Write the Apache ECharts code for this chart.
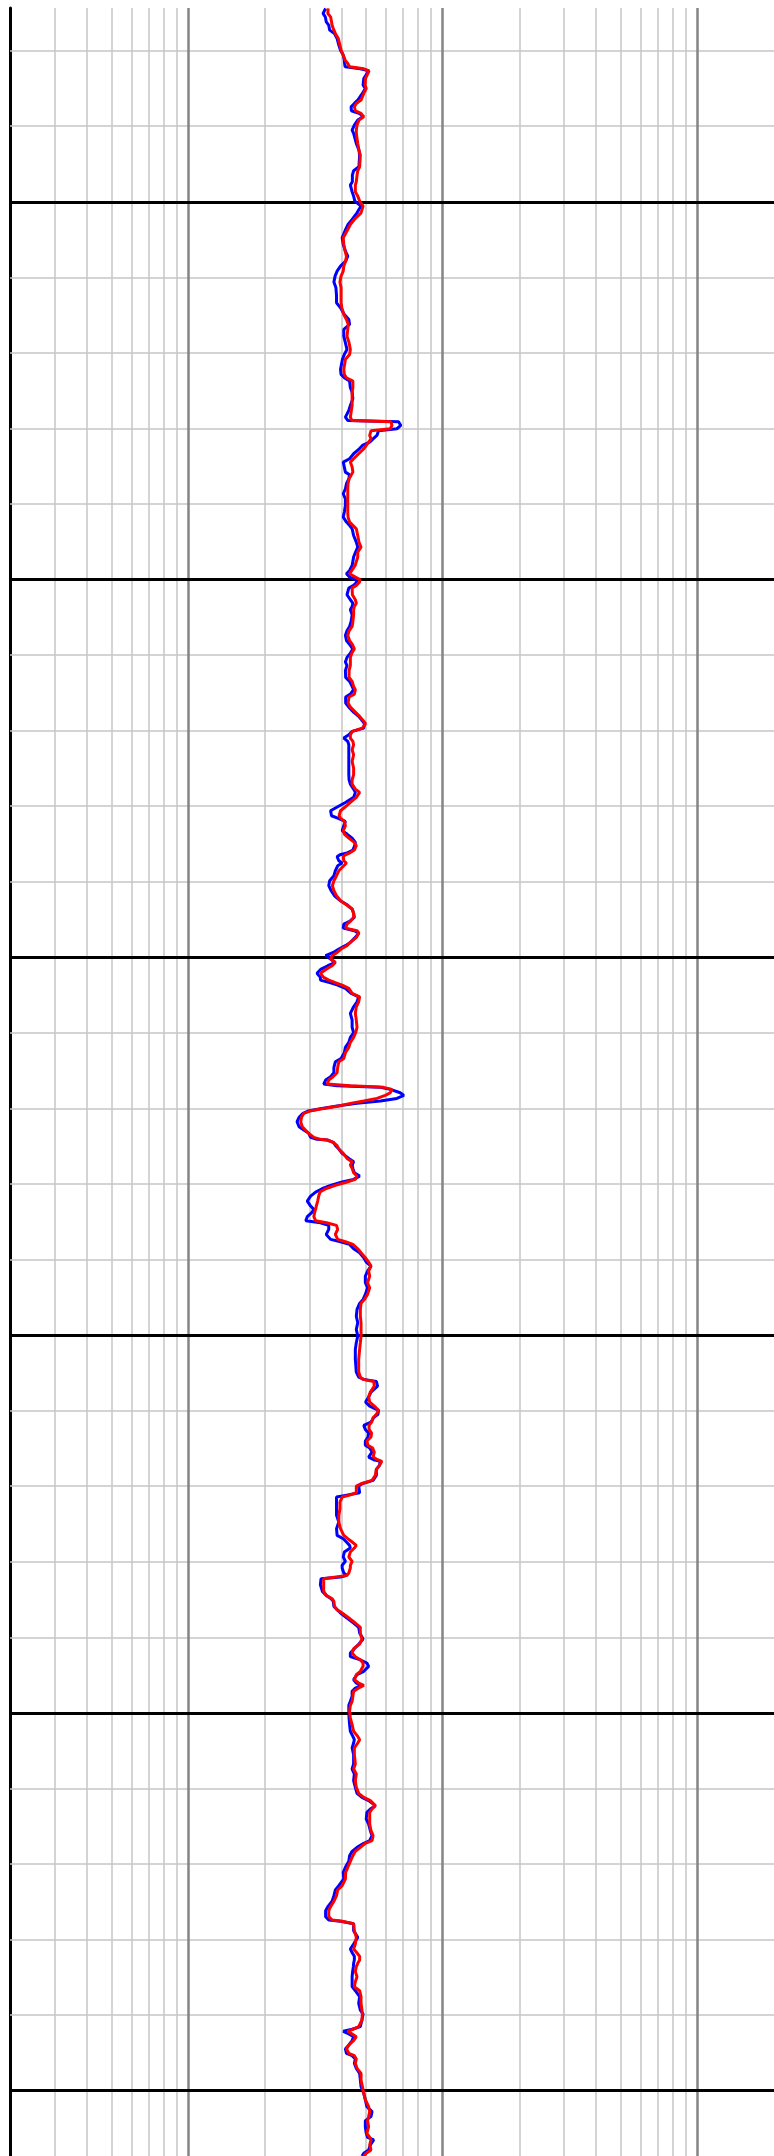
<!DOCTYPE html>
<html>
<head>
<meta charset="utf-8">
<script src="https://cdn.jsdelivr.net/npm/echarts@6/dist/echarts.min.js"></script>
<style>
  html, body { margin: 0; padding: 0; background: #fff; }
  #main { width: 774px; height: 2156px; }
</style>
</head>
<body>
<div id="main"></div>
<script>
// depth samples (shared by both curves)
var depth = [
  974.41, 975.07, 975.52, 976.18, 976.62, 977.28, 977.72, 978.38, 979.26, 979.93, 980.59, 981.25, 981.69, 982.13, 982.40, 982.66, 983.68, 984.56, 985.00, 985.66, 986.54, 986.98, 987.43, 987.95, 988.31, 988.75, 989.19, 989.85, 990.51, 990.95, 992.28, 993.16, 993.82, 995.37, 995.89, 996.47, 997.35, 997.79, 998.67,
  999.25, 999.91, 1000.57, 1001.46, 1002.34, 1003.00, 1003.66, 1004.76, 1005.65, 1006.53, 1007.19, 1007.85, 1008.51, 1009.17, 1009.84, 1010.63, 1011.38, 1012.48, 1013.37, 1014.03, 1014.91, 1015.57, 1016.23, 1016.89, 1017.78, 1018.66, 1019.54, 1020.20, 1020.86, 1022.19, 1022.85, 1023.29, 1023.73, 1024.61,
  1025.19, 1026.07, 1026.95, 1027.62, 1028.50, 1028.94, 1029.12, 1029.60, 1030.04, 1030.31, 1030.92, 1031.37, 1031.81, 1032.25, 1032.78, 1033.35, 1034.01, 1034.45, 1035.11, 1035.78, 1036.13, 1036.66, 1037.32, 1037.98, 1038.64, 1039.31, 1040.19, 1041.07, 1041.73, 1042.39, 1042.83, 1043.28, 1044.16, 1045.04, 1045.70, 1046.36, 1047.02, 1048.13, 1048.79, 1049.23, 1049.67, 1049.98, 1050.33, 1050.77,
  1051.13, 1052.01, 1052.67, 1053.12, 1053.56, 1054.00, 1054.66, 1055.54, 1056.20, 1056.78, 1057.39, 1058.06, 1058.72, 1059.20, 1059.73, 1060.30, 1060.92, 1061.36, 1062.07, 1062.95, 1063.48, 1064.14, 1064.58, 1065.16, 1065.55, 1066.35, 1066.88, 1067.54, 1068.11, 1068.64, 1069.08, 1069.66, 1070.10, 1070.54, 1070.98, 1071.42, 1071.86, 1072.52, 1073.19, 1074.07, 1074.95, 1075.83, 1076.49,
  1077.07, 1077.73, 1078.17, 1078.83, 1079.50, 1080.07, 1080.60, 1081.26, 1081.57, 1082.01, 1082.58, 1083.25, 1083.69, 1084.22, 1084.79, 1085.23, 1085.80, 1086.20, 1086.42, 1086.69, 1087.22, 1087.52, 1087.88, 1088.54, 1089.20, 1089.86, 1090.52, 1091.19, 1091.85, 1092.51, 1093.04, 1093.61, 1094.18, 1094.71, 1095.24, 1095.60, 1096.13, 1096.48, 1096.79, 1097.36, 1098.02, 1098.46, 1098.90, 1099.35, 1099.79, 1100.23, 1100.67, 1101.11, 1101.55, 1102.12, 1102.65,
  1103.01, 1103.36, 1103.67, 1104.11, 1104.77, 1105.22, 1105.88, 1106.54, 1107.42, 1108.30, 1109.27, 1109.98, 1110.60, 1111.26, 1111.92, 1112.63, 1113.38, 1113.82, 1114.57, 1115.27, 1115.80, 1116.24, 1116.77, 1116.99, 1117.21, 1117.48, 1117.92, 1118.27, 1118.67, 1119.02, 1119.33, 1119.68, 1120.04, 1120.35, 1120.65, 1121.18, 1121.76, 1122.42, 1122.86, 1123.30, 1123.83, 1124.09, 1124.18, 1124.49, 1124.93, 1125.37, 1125.95, 1126.61, 1127.05, 1127.49, 1127.93, 1128.51,
  1128.95, 1129.39, 1129.74, 1130.19, 1130.63, 1131.07, 1131.60, 1132.26, 1132.92, 1133.36, 1133.80, 1134.33, 1134.86, 1135.13, 1135.48, 1136.01, 1136.67, 1137.33, 1137.64, 1137.99, 1138.57, 1139.10, 1139.76, 1140.33, 1140.86, 1141.52, 1142.18, 1143.07, 1143.73, 1144.61, 1145.27, 1145.80, 1146.59, 1147.48, 1148.36, 1149.24, 1150.12, 1151.01, 1151.89, 1153.21,
  1154.89, 1155.55, 1155.86, 1156.13, 1156.74, 1157.54, 1158.20, 1158.86, 1159.39, 1159.96, 1160.49, 1160.93, 1161.51, 1161.95, 1162.48, 1162.96, 1163.49, 1164.02, 1164.59, 1164.95, 1165.48, 1166.14, 1166.49, 1166.71, 1167.24, 1167.77, 1168.56, 1169.23, 1169.67, 1169.98, 1170.86, 1171.21, 1171.43, 1172.09, 1172.98, 1173.86, 1174.74, 1175.62, 1176.50, 1176.95, 1177.39, 1177.83, 1178.18, 1178.71, 1179.37, 1179.94, 1180.47,
  1180.83, 1181.49, 1181.80, 1182.02, 1182.24, 1183.04, 1183.92, 1184.45, 1184.89, 1185.24, 1185.90, 1186.34, 1186.78, 1187.45, 1188.11, 1188.68, 1189.43, 1190.23, 1190.89, 1191.50, 1192.08, 1192.56, 1192.96, 1193.40, 1193.84, 1194.50, 1194.95, 1195.61, 1196.05, 1196.36, 1196.71, 1197.15, 1197.81, 1198.47, 1199.00, 1199.80, 1200.68, 1201.56, 1202.44, 1203.11, 1203.55, 1203.99, 1204.65, 1205.53,
  1206.77, 1207.43, 1208.09, 1208.98, 1209.86, 1210.65, 1211.18, 1211.62, 1212.28, 1212.72, 1213.17, 1214.05, 1214.71, 1215.59, 1216.25, 1216.92, 1217.27, 1217.80, 1218.33, 1218.90, 1219.65, 1220.44, 1221.11, 1221.99, 1222.87, 1223.44, 1224.19, 1224.94, 1225.65, 1226.18, 1226.97, 1227.41, 1227.59, 1227.90, 1228.83, 1229.71, 1230.59, 1231.25, 1231.78, 1232.22,
  1232.71, 1233.15, 1233.59, 1234.25, 1234.92, 1235.58, 1236.24, 1236.77, 1237.56, 1238.44, 1239.33, 1239.86, 1240.65, 1241.53, 1241.88, 1242.15, 1242.50, 1242.86, 1243.38, 1243.96, 1244.49, 1245.06, 1245.37, 1245.81, 1246.38, 1247.05, 1247.71, 1248.59, 1249.47, 1250.35, 1251.24, 1252.12, 1252.78, 1253.44, 1253.97, 1254.77, 1255.65, 1256.18, 1256.53, 1257.19, 1257.85, 1258.29, 1258.65
];

// blue curve
var blueCurve = [
  3.47, 3.39, 3.46, 3.49, 3.57, 3.60, 3.76, 3.85, 3.91, 3.97, 4.07, 4.11, 4.12, 4.14, 4.75, 5.12, 4.90, 4.87, 4.97, 4.84, 4.64, 4.50, 4.37, 4.38, 4.72, 4.87, 4.64, 4.50, 4.41, 4.47, 4.58, 4.69, 4.72, 4.69, 4.47, 4.42, 4.42, 4.34, 4.41,
  4.47, 4.52, 4.78, 4.61, 4.41, 4.25, 4.16, 4.03, 4.07, 4.15, 4.24, 4.16, 3.97, 3.85, 3.78, 3.74, 3.81, 3.83, 3.83, 3.97, 4.11, 4.28, 4.31, 4.09, 4.09, 4.15, 4.21, 4.11, 4.04, 3.97, 3.99, 4.11, 4.31, 4.34,
  4.41, 4.44, 4.34, 4.28, 4.15, 4.24, 6.71, 6.85, 6.61, 5.60, 5.52, 5.33, 5.17, 4.84, 4.68, 4.47, 4.31, 4.07, 4.11, 4.15, 4.31, 4.28, 4.19, 4.15, 4.07, 4.15, 4.15, 4.11, 4.07, 4.19, 4.31, 4.41, 4.47, 4.58, 4.64, 4.55, 4.47, 4.41, 4.31, 4.19, 4.31, 4.54, 4.61, 4.47,
  4.28, 4.21, 4.34, 4.44, 4.41, 4.34, 4.41, 4.37, 4.31, 4.21, 4.15, 4.19, 4.34, 4.44, 4.34, 4.21, 4.15, 4.21, 4.15, 4.16, 4.31, 4.41, 4.47, 4.34, 4.16, 4.16, 4.28, 4.47, 4.68, 4.82, 4.93, 4.90, 4.41, 4.28, 4.09, 4.24, 4.28, 4.28, 4.28, 4.28, 4.28, 4.28, 4.29,
  4.34, 4.47, 4.54, 4.47, 4.15, 3.87, 3.63, 3.66, 3.87, 4.15, 4.09, 4.03, 4.21, 4.41, 4.54, 4.51, 4.44, 4.21, 3.95, 3.85, 3.91, 4.03, 3.87, 3.79, 3.74, 3.60, 3.57, 3.65, 3.76, 3.97, 4.21, 4.41, 4.47, 4.50, 4.31, 4.09, 4.07, 4.50, 4.68, 4.54, 4.34, 4.15, 3.91, 3.72, 3.47, 3.63, 3.79, 3.54, 3.33, 3.21, 3.31,
  3.31, 3.63, 3.87, 4.15, 4.37, 4.68, 4.61, 4.47, 4.34, 4.41, 4.41, 4.47, 4.34, 4.28, 4.15, 4.11, 3.99, 3.79, 3.74, 3.74, 3.63, 3.47, 3.41, 3.85, 5.69, 6.23, 6.81, 7.04, 6.61, 5.69, 4.61, 3.85, 3.31, 2.96, 2.83, 2.73, 2.68, 2.73, 2.85, 2.98, 3.03, 3.21, 3.52, 3.72, 3.80, 3.91, 4.03, 4.28, 4.47, 4.41, 4.44, 4.50,
  4.72, 4.47, 4.03, 3.63, 3.36, 3.17, 3.03, 2.94, 3.03, 3.12, 3.06, 2.94, 2.90, 3.31, 3.57, 3.57, 3.49, 3.63, 3.97, 4.31, 4.47, 4.72, 4.90, 5.01, 5.23, 5.07, 4.97, 4.97, 5.07, 4.97, 4.87, 4.72, 4.61, 4.58, 4.64, 4.58, 4.64, 4.58, 4.54, 4.54,
  4.58, 4.68, 4.90, 5.49, 5.55, 5.23, 5.12, 4.98, 5.17, 5.60, 5.57, 5.36, 5.23, 4.90, 4.97, 5.12, 5.09, 4.97, 4.97, 5.17, 5.28, 5.12, 5.36, 5.69, 5.65, 5.49, 5.49, 5.33, 4.82, 4.68, 4.72, 4.15, 3.83, 3.83, 3.83, 3.83, 3.91, 3.83, 3.85, 4.07, 4.19, 4.31, 4.34, 4.11, 4.07, 4.15, 4.03,
  4.03, 4.09, 4.21, 3.97, 3.33, 3.31, 3.37, 3.49, 3.65, 3.72, 3.74, 3.85, 3.97, 4.21, 4.47, 4.68, 4.72, 4.87, 4.69, 4.50, 4.34, 4.34, 4.72, 5.04, 5.12, 4.90, 4.61, 4.47, 4.58, 4.82, 4.54, 4.41, 4.41, 4.34, 4.28, 4.28, 4.29, 4.31, 4.34, 4.44, 4.50, 4.47, 4.41, 4.47,
  4.47, 4.41, 4.50, 4.47, 4.54, 4.61, 4.82, 5.12, 5.44, 5.20, 5.04, 5.01, 5.12, 5.20, 5.28, 5.17, 4.90, 4.61, 4.41, 4.31, 4.28, 4.15, 4.07, 4.09, 3.91, 3.79, 3.74, 3.68, 3.54, 3.47, 3.47, 3.57, 3.97, 4.47, 4.47, 4.64, 4.47, 4.34, 4.42, 4.50,
  4.50, 4.47, 4.46, 4.43, 4.41, 4.41, 4.41, 4.54, 4.72, 4.68, 4.75, 4.87, 4.82, 4.75, 4.41, 4.07, 4.28, 4.47, 4.41, 4.28, 4.15, 4.19, 4.41, 4.54, 4.50, 4.58, 4.72, 4.75, 4.78, 4.90, 4.97, 5.04, 5.28, 5.23, 4.97, 4.97, 5.01, 5.07, 5.36, 5.20, 5.12, 4.90, 4.82
];

// red curve
var redCurve = [
  3.55, 3.54, 3.63, 3.66, 3.68, 3.74, 3.79, 3.89, 3.95, 3.99, 4.07, 4.14, 4.24, 4.31, 4.90, 5.14, 4.98, 4.96, 5.01, 4.90, 4.78, 4.58, 4.50, 4.54, 4.78, 4.90, 4.69, 4.61, 4.58, 4.58, 4.64, 4.69, 4.75, 4.72, 4.64, 4.61, 4.58, 4.54, 4.54,
  4.64, 4.72, 4.87, 4.78, 4.50, 4.34, 4.24, 4.07, 4.09, 4.14, 4.19, 4.16, 4.09, 4.07, 3.99, 3.95, 3.99, 3.99, 3.99, 4.02, 4.09, 4.19, 4.26, 4.24, 4.21, 4.29, 4.34, 4.31, 4.15, 4.09, 4.11, 4.19, 4.44, 4.44,
  4.41, 4.41, 4.41, 4.38, 4.34, 4.40, 6.27, 6.32, 6.23, 5.23, 5.17, 5.23, 5.12, 5.01, 4.87, 4.68, 4.47, 4.34, 4.41, 4.44, 4.38, 4.29, 4.25, 4.24, 4.24, 4.24, 4.24, 4.24, 4.25, 4.31, 4.44, 4.58, 4.64, 4.69, 4.78, 4.64, 4.64, 4.53, 4.40, 4.31, 4.54, 4.72, 4.72, 4.58,
  4.41, 4.42, 4.54, 4.58, 4.50, 4.47, 4.47, 4.44, 4.41, 4.29, 4.24, 4.31, 4.44, 4.50, 4.40, 4.34, 4.34, 4.34, 4.29, 4.29, 4.41, 4.47, 4.54, 4.50, 4.29, 4.25, 4.34, 4.54, 4.72, 4.87, 4.98, 4.84, 4.42, 4.34, 4.34, 4.44, 4.47, 4.41, 4.47, 4.41, 4.47, 4.47, 4.41,
  4.41, 4.54, 4.72, 4.58, 4.34, 4.15, 3.97, 3.92, 3.97, 4.11, 4.15, 4.07, 4.11, 4.28, 4.50, 4.58, 4.50, 4.31, 4.15, 4.07, 4.09, 4.19, 4.09, 3.91, 3.83, 3.74, 3.69, 3.74, 3.83, 3.97, 4.19, 4.41, 4.47, 4.47, 4.34, 4.21, 4.16, 4.61, 4.69, 4.58, 4.34, 4.21, 3.99, 3.85, 3.68, 3.63, 3.79, 3.68, 3.50, 3.31, 3.41,
  3.57, 3.79, 4.03, 4.28, 4.41, 4.72, 4.68, 4.58, 4.54, 4.58, 4.61, 4.55, 4.47, 4.34, 4.28, 4.15, 4.09, 3.91, 3.87, 3.85, 3.71, 3.57, 3.52, 4.34, 5.86, 6.32, 6.23, 5.95, 5.52, 4.90, 4.34, 3.91, 3.36, 3.01, 2.85, 2.79, 2.77, 2.81, 2.89, 2.98, 3.12, 3.31, 3.52, 3.72, 3.85, 3.91, 4.07, 4.21, 4.41, 4.34, 4.41, 4.47,
  4.61, 4.54, 4.21, 3.79, 3.47, 3.30, 3.26, 3.23, 3.19, 3.17, 3.14, 3.12, 3.17, 3.50, 3.83, 3.87, 3.79, 3.87, 4.15, 4.44, 4.64, 4.78, 4.97, 5.12, 5.23, 5.12, 5.17, 5.07, 5.17, 5.07, 4.93, 4.78, 4.75, 4.75, 4.78, 4.78, 4.78, 4.75, 4.72, 4.68,
  4.68, 4.75, 4.87, 5.36, 5.39, 5.20, 5.12, 5.17, 5.39, 5.60, 5.49, 5.33, 5.26, 5.14, 5.14, 5.26, 5.23, 5.04, 5.09, 5.31, 5.39, 5.33, 5.55, 5.77, 5.65, 5.49, 5.44, 5.28, 4.78, 4.58, 4.58, 4.28, 4.03, 3.95, 3.95, 3.91, 3.91, 3.97, 4.09, 4.24, 4.41, 4.58, 4.50, 4.34, 4.28, 4.41, 4.34,
  4.34, 4.28, 4.21, 4.15, 3.41, 3.41, 3.41, 3.49, 3.68, 3.74, 3.76, 3.85, 4.03, 4.28, 4.54, 4.75, 4.75, 4.82, 4.72, 4.47, 4.41, 4.54, 4.75, 4.87, 4.87, 4.75, 4.58, 4.50, 4.68, 4.90, 4.68, 4.47, 4.44, 4.41, 4.34, 4.31, 4.34, 4.41, 4.47, 4.64, 4.72, 4.64, 4.50, 4.50,
  4.54, 4.47, 4.58, 4.54, 4.58, 4.68, 4.90, 5.20, 5.44, 5.28, 5.17, 5.17, 5.17, 5.23, 5.33, 5.28, 4.97, 4.75, 4.54, 4.44, 4.34, 4.24, 4.16, 4.15, 4.03, 3.87, 3.83, 3.74, 3.63, 3.57, 3.57, 3.68, 4.03, 4.47, 4.50, 4.58, 4.54, 4.47, 4.61, 4.72,
  4.72, 4.64, 4.58, 4.54, 4.61, 4.54, 4.50, 4.72, 4.78, 4.78, 4.82, 4.84, 4.82, 4.68, 4.44, 4.24, 4.41, 4.58, 4.47, 4.28, 4.19, 4.28, 4.50, 4.58, 4.54, 4.61, 4.78, 4.78, 4.84, 4.90, 4.98, 5.12, 5.17, 5.12, 5.07, 5.12, 5.04, 5.17, 5.23, 5.17, 5.23, 5.01, 4.90
];

// grid lines (log track 0.2 - 200, depth every 10 / 50)
var minorX = [0.3, 0.4, 0.5, 0.6, 0.7, 0.8, 0.9, 2, 3, 4, 5, 6, 7, 8, 9, 20, 30, 40, 50, 60, 70, 80, 90];
var decadeX = [1, 10, 100];
var minorDepth = [980, 990, 1010, 1020, 1030, 1040, 1060, 1070, 1080, 1090, 1110, 1120, 1130, 1140, 1160, 1170, 1180, 1190, 1210, 1220, 1230, 1240];
var majorDepth = [1000, 1050, 1100, 1150, 1200, 1250];

var depthTop = 974.35, depthBottom = 1258.65;

function pairs(vals) {
    var out = [];
    var n = Math.min(vals.length, depth.length);
    for (var i = 0; i < n; i++) {
        out.push([vals[i], depth[i]]);
    }
    return out;
}

function gridSeries(list, axisKey, color, width, z) {
    return {
        type: 'line',
        data: [],
        z: z,
        silent: true,
        markLine: {
            silent: true,
            animation: false,
            symbol: ['none', 'none'],
            label: {show: false},
            emphasis: {disabled: true},
            lineStyle: {color: color, width: width, type: 'solid'},
            data: list.map(function (v) {
                var d = {};
                d[axisKey] = v;
                return d;
            })
        }
    };
}

var chart = echarts.init(document.getElementById('main'), null, {renderer: 'canvas'});

chart.setOption({
    animation: false,
    backgroundColor: '#ffffff',
    grid: {left: 10, top: 8, width: 767, height: 2148, containLabel: false},
    xAxis: {
        type: 'log',
        logBase: 10,
        min: 0.2,
        max: 200,
        axisLine: {show: false},
        axisTick: {show: false},
        axisLabel: {show: false},
        splitLine: {show: false}
    },
    yAxis: {
        type: 'value',
        inverse: true,
        min: depthTop,
        max: depthBottom,
        axisLine: {show: true, onZero: false, lineStyle: {color: '#000', width: 3}},
        axisTick: {show: false},
        axisLabel: {show: false},
        splitLine: {show: false}
    },
    series: [
        gridSeries(minorX, 'xAxis', '#c6c6c6', 1.5, 1),
        gridSeries(minorDepth, 'yAxis', '#c6c6c6', 1.5, 2),
        gridSeries(decadeX, 'xAxis', '#858585', 2.5, 3),
        gridSeries(majorDepth, 'yAxis', '#000000', 3, 4),
        {
            name: 'blue',
            type: 'line',
            z: 5,
            data: pairs(blueCurve),
            showSymbol: false,
            lineStyle: {color: '#0000ff', width: 3},
            itemStyle: {color: '#0000ff'}
        },
        {
            name: 'red',
            type: 'line',
            z: 6,
            data: pairs(redCurve),
            showSymbol: false,
            lineStyle: {color: '#ff0000', width: 3},
            itemStyle: {color: '#ff0000'}
        }
    ]
});
</script>
</body>
</html>
